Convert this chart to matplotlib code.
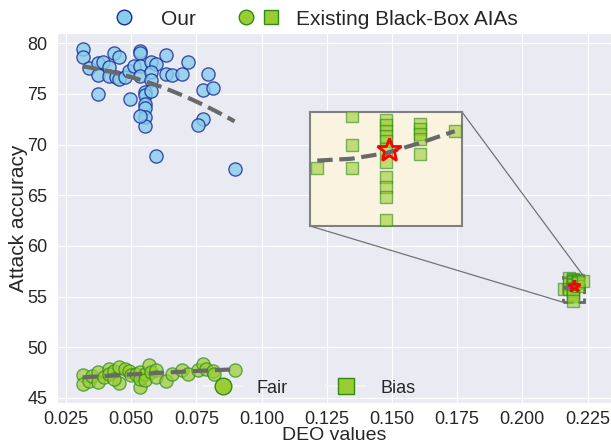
import numpy as np
import matplotlib
matplotlib.use('Agg')
import matplotlib.pyplot as plt
import seaborn as sns
from matplotlib.lines import Line2D
from matplotlib.legend_handler import HandlerTuple
from mpl_toolkits.axes_grid1.inset_locator import mark_inset

sns.set_style('darkgrid')
plt.rcParams['font.family'] = ['Liberation Sans', 'DejaVu Sans']

# "Our" attack (DEO value, attack accuracy)
our_x = [0.0313, 0.0313, 0.0336, 0.0374, 0.0392, 0.0374, 0.0415, 0.0415, 0.0435, 0.0454,
         0.0441, 0.0454, 0.0477, 0.0492, 0.0512, 0.0535, 0.0535, 0.0535, 0.0535, 0.0554,
         0.0554, 0.0554, 0.0554, 0.0554, 0.0554, 0.0535, 0.0576, 0.0595, 0.0576, 0.0576,
         0.0576, 0.0633, 0.0633, 0.0656, 0.0695, 0.0717, 0.0796, 0.0774, 0.0815, 0.0774,
         0.0755, 0.0374, 0.0495, 0.0595, 0.0896]
our_y = [79.4, 78.6, 77.5, 78.0, 78.1, 76.9, 77.6, 76.8, 79.0, 78.6,
         76.7, 76.5, 76.7, 77.3, 77.7, 79.2, 79.0, 77.7, 76.8, 75.2,
         74.9, 74.0, 73.6, 72.7, 71.8, 72.8, 78.1, 77.9, 77.2, 76.4,
         75.3, 78.8, 77.0, 76.9, 77.0, 78.1, 77.0, 75.4, 75.6, 72.5,
         71.9, 75.0, 74.5, 68.9, 67.6]

# Existing black-box AIAs, fair models
fair_x = [0.0313, 0.0313, 0.0336, 0.0351, 0.0374, 0.0374, 0.0396, 0.0415, 0.0415, 0.0435,
          0.0454, 0.0454, 0.0435, 0.0477, 0.0492, 0.0499, 0.0518, 0.0535, 0.0535, 0.0535,
          0.0554, 0.0554, 0.0569, 0.0576, 0.0595, 0.0595, 0.0633, 0.0656, 0.0695, 0.0717,
          0.0755, 0.0774, 0.0787, 0.0815, 0.0819, 0.0896]
fair_y = [47.3, 46.4, 46.7, 47.2, 47.6, 46.6, 47.1, 47.9, 47.4, 47.7,
          48.1, 46.5, 46.9, 47.9, 47.7, 47.3, 47.4, 47.6, 46.1, 46.9,
          47.4, 46.8, 48.2, 47.6, 47.8, 47.1, 46.7, 47.4, 47.8, 47.4,
          47.8, 48.3, 47.9, 47.7, 47.4, 47.8]

# Existing black-box AIAs, biased models
bias_x = [0.2158, 0.2177, 0.2177, 0.2177,
          0.2196, 0.2196, 0.2196, 0.2196, 0.2196, 0.2196, 0.2196, 0.2196, 0.2196, 0.2196, 0.2196,
          0.2215, 0.2215, 0.2215, 0.2215, 0.2215, 0.2234]
bias_y = [55.70, 56.81, 56.19, 55.70,
          56.73, 56.62, 56.49, 56.39, 56.28, 56.11, 55.83, 55.51, 55.29, 55.08, 54.59,
          56.64, 56.54, 56.43, 56.32, 56.00, 56.49]
# trend of the biased cluster
bias_trend_x = [0.2158, 0.2177, 0.2196, 0.2215, 0.2234]
bias_trend_y = [55.86, 55.90, 56.02, 56.24, 56.49]

x_ticks = [0.025, 0.050, 0.075, 0.100, 0.125, 0.150, 0.175, 0.200, 0.225]
y_ticks = [45, 50, 55, 60, 65, 70, 75, 80]

blue_face, blue_edge = '#87CEEB', '#1a2a9a'
green_face, green_edge = '#9ACD32', '#2f8a1a'


def trend(a, x, y):
    z = np.polyfit(x, y, 2)
    xs = np.linspace(min(x), max(x), 60)
    a.plot(xs, np.polyval(z, xs), '--', color='dimgray', lw=3, zorder=4)


def draw(a, star_size):
    a.scatter(our_x, our_y, s=90, marker='o', facecolor=blue_face, edgecolor=blue_edge,
              linewidth=1, alpha=0.8, zorder=3)
    a.scatter(fair_x, fair_y, s=90, marker='o', facecolor=green_face, edgecolor=green_edge,
              linewidth=1, alpha=0.7, zorder=3)
    a.scatter(bias_x, bias_y, s=75, marker='s', facecolor=green_face, edgecolor=green_edge,
              linewidth=1, alpha=0.6, zorder=3)
    trend(a, our_x, our_y)
    trend(a, fair_x, fair_y)
    a.plot(bias_trend_x, bias_trend_y, '--', color='dimgray', lw=3, zorder=4)
    a.plot(np.mean(bias_x), np.mean(bias_y), marker='*', ms=star_size, mfc='none',
           mec='red', mew=2, zorder=5)


fig = plt.figure(figsize=(6.11, 4.48), dpi=100)
ax = fig.add_axes([57 / 611, 45 / 448, 554 / 611, 370 / 448])
draw(ax, 9)
ax.set_xlim(0.0215, 0.234)
ax.set_ylim(44.5, 81.0)
ax.set_xticks(x_ticks)
ax.set_xticklabels([f'{v:.3f}' for v in x_ticks], fontsize=13)
ax.set_yticks(y_ticks)
ax.set_yticklabels([str(v) for v in y_ticks], fontsize=13)
ax.tick_params(axis='x', pad=2)
ax.set_xlabel('DEO values', fontsize=14, labelpad=-0.5)
ax.set_ylabel('Attack accuracy', fontsize=15, labelpad=-1)

# zoomed view of the biased cluster
axins = ax.inset_axes([253 / 554, 177 / 370, 152 / 554, 114 / 370])
axins.set_facecolor('#faf3e0')
axins.grid(False)
draw(axins, 18)
axins.set_xlim(0.2154, 0.2238)
axins.set_ylim(54.46, 56.9)
axins.set_xticks([])
axins.set_yticks([])
for sp in axins.spines.values():
    sp.set_edgecolor('gray')
    sp.set_linewidth(1.5)
pp, p1, p2 = mark_inset(ax, axins, loc1=1, loc2=3, fc='none', ec='0.45', lw=0.9)
pp.set_linestyle('--')
pp.set_linewidth(2)
pp.set_edgecolor('0.4')

# lower legend: model type
fair_h = Line2D([0], [0], color='#f4f4f4', lw=1.5, marker='o', ms=12,
                mfc=green_face, mec=green_edge)
bias_h = Line2D([0], [0], color='#f4f4f4', lw=1.5, marker='s', ms=11.5,
                mfc=green_face, mec=green_edge)
ax.legend([fair_h, bias_h], ['Fair', 'Bias'], loc='center', bbox_to_anchor=(0.455, 0.04),
          ncol=2, frameon=False, fontsize=13, handlelength=2.2, columnspacing=2.1)

# top legend: attack type
our_h = Line2D([0], [0], ls='none', marker='o', ms=10.5, mfc=blue_face, mec=blue_edge)
c_h = Line2D([0], [0], ls='none', marker='o', ms=10.5, mfc=green_face, mec=green_edge)
s_h = Line2D([0], [0], ls='none', marker='s', ms=10, mfc=green_face, mec=green_edge)
fig.legend([our_h, (c_h, s_h)], ['Our', 'Existing Black-Box AIAs'],
           handler_map={tuple: HandlerTuple(ndivide=None, pad=0.4)},
           loc='center', bbox_to_anchor=(0.508, 0.957), ncol=2, frameon=False, fontsize=15)

fig.savefig('out.png', dpi=100)
